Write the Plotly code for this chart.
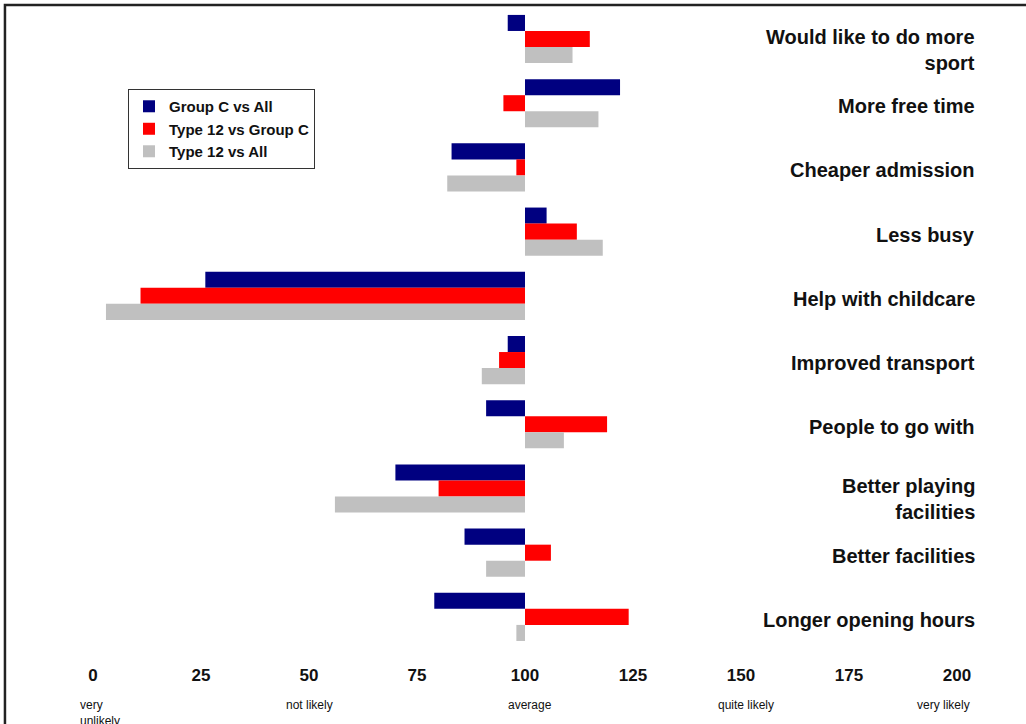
import plotly.graph_objects as go

# Reasons / motivators, listed top to bottom
categories = [
    "Would like to do more<br>sport",
    "More free time",
    "Cheaper admission",
    "Less busy",
    "Help with childcare",
    "Improved transport",
    "People to go with",
    "Better playing<br>facilities",
    "Better facilities",
    "Longer opening hours",
]

# Index values (100 = average)
group_c_vs_all = [96, 122, 83, 105, 26, 96, 91, 70, 86, 79]
type12_vs_group_c = [115, 95, 98, 112, 11, 94, 119, 80, 106, 124]
type12_vs_all = [111, 117, 82, 118, 3, 90, 109, 56, 91, 98]

series_names = ["Group C vs All", "Type 12 vs Group C", "Type 12 vs All"]
series_colors = ["#000080", "#FF0000", "#C0C0C0"]

tick_values = [0, 25, 50, 75, 100, 125, 150, 175, 200]
scale_words = ["very<br>unlikely", "not likely", "average", "quite likely", "very likely"]
scale_positions = [0, 50, 100, 150, 200]

BASELINE = 100
FONT = "Liberation Sans, Arial, sans-serif"

fig = go.Figure()
for name, color, values in zip(series_names, series_colors,
                               [group_c_vs_all, type12_vs_group_c, type12_vs_all]):
    fig.add_trace(go.Bar(
        y=categories,
        x=[v - BASELINE for v in values],
        base=BASELINE,
        orientation="h",
        name=name,
        marker=dict(color=color, line=dict(width=0)),
    ))

# Category labels, right-aligned to the right of the bars;
# wrapped labels sit a little lower than their group
for cat in categories:
    fig.add_annotation(
        x=1.0231, xref="paper", y=cat, yref="y",
        text="<b>%s</b>" % cat, showarrow=False,
        xanchor="right", yanchor="middle", align="right",
        yshift=-11 if "<br>" in cat else -3,
        font=dict(family=FONT, size=20, color="#111111"),
    )

# Verbal scale under the numeric ticks
scale_shift = [-15, 0, 5, 5, -14]
for word, pos, shift in zip(scale_words, scale_positions, scale_shift):
    fig.add_annotation(
        x=pos, xref="x", y=-0.0730, yref="paper",
        text=word, showarrow=False,
        xanchor="left" if pos == 0 else "center", yanchor="top",
        align="left", xshift=shift,
        font=dict(family=FONT, size=12, color="#111111"),
    )

# Frame (only its top and left edges fall inside the page)
fig.add_shape(type="rect", xref="paper", yref="paper",
              x0=-0.1019, x1=1.3, y0=-0.3, y1=0.9954,
              line=dict(color="#222222", width=2.5), fillcolor="rgba(0,0,0,0)",
              layer="above")

fig.update_layout(
    width=1026, height=724,
    margin=dict(l=93, r=69, t=2, b=75, autoexpand=False),
    paper_bgcolor="white", plot_bgcolor="white",
    barmode="group", bargap=0.25, bargroupgap=0,
    font=dict(family=FONT, color="#111111"),
    xaxis=dict(
        range=[0, 200], tickvals=tick_values, ticktext=[str(t) for t in tick_values],
        showgrid=False, zeroline=False, showline=False, ticks="",
        tickfont=dict(family=FONT, size=17, color="#111111", weight="bold"),
        ticklabelstandoff=14, automargin=False,
    ),
    yaxis=dict(
        autorange="reversed", showticklabels=False, showgrid=False,
        zeroline=False, showline=False, ticks="", automargin=False,
    ),
    legend=dict(
        x=0.0405, y=0.8655, xanchor="left", yanchor="top",
        bordercolor="#333333", borderwidth=1, bgcolor="white",
        font=dict(family=FONT, size=15, color="#111111", weight="bold"),
        tracegroupgap=4, itemwidth=30,
    ),
    showlegend=True,
)

fig.write_html("out.html")
